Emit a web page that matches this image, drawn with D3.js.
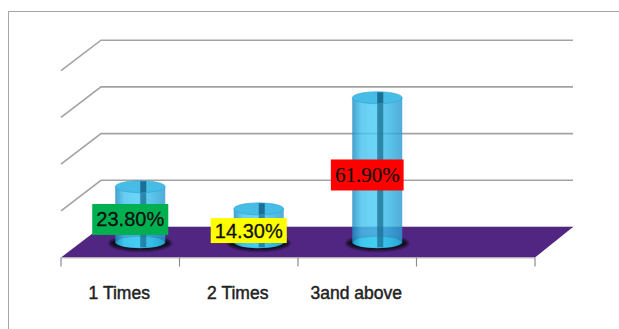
<!DOCTYPE html>
<html><head><meta charset="utf-8">
<script src="https://cdn.jsdelivr.net/npm/d3@7"></script>
<style>body{margin:0;background:#fff}svg{display:block}</style>
</head><body>
<svg id="c" width="619" height="329"></svg>
<script>
const categories = ["1 Times", "2 Times", "3and above"];
const values = [23.8, 14.3, 61.9];
const valueLabels = ["23.80%", "14.30%", "61.90%"];
const yTicks = [0, 20, 40, 60, 80];
const labelFills = ["#00b050", "#ffff00", "#ff0000"];
const labelFonts = ["Liberation Sans, Arial, sans-serif", "Liberation Sans, Arial, sans-serif", "Liberation Serif, Times New Roman, serif"];

const svg = d3.select("#c");
const W = 619, H = 329;
const frontL = 61, frontR = 535, frontY = 257.5;
const dx = 40, dy = 30.5;
const backY0 = frontY - dy;

const slots = categories.concat([""]);
const x = d3.scaleBand().domain(slots).range([frontL, frontR]).padding(0);
const y = d3.scaleLinear().domain([0, 80]).range([backY0, backY0 - 4 * 46.7]);

// outer border
svg.append("rect").attr("x", 8.5).attr("y", 11.5).attr("width", W).attr("height", H)
  .attr("fill", "#fff").attr("stroke", "#a6a6a6").attr("stroke-width", 1);

// defs
const defs = svg.append("defs");
const g1 = defs.append("linearGradient").attr("id", "cyl").attr("x1", 0).attr("x2", 1).attr("y1", 0).attr("y2", 0);
[[0, "#1d8cc0"], [0.18, "#45c3ef"], [0.45, "#4ccbf4"], [0.75, "#36b5e4"], [1, "#2a9bcf"]]
  .forEach(([o, c]) => g1.append("stop").attr("offset", o).attr("stop-color", c));
const blur = defs.append("filter").attr("id", "blur").attr("x", "-50%").attr("y", "-50%").attr("width", "200%").attr("height", "200%");
blur.append("feGaussianBlur").attr("stdDeviation", 1.2);

// gridlines (side wall + back wall)
const grid = svg.append("g");
yTicks.forEach(t => {
  const yy = y(t);
  if (t > 0) {
    grid.append("path")
      .attr("d", `M${frontL},${yy + dy}L${frontL + dx},${yy}L${frontR + dx - 2},${yy}`)
      .attr("fill", "none").attr("stroke", "#a3a3a3").attr("stroke-width", 1.6);
  } else {
    grid.append("path")
      .attr("d", `M${frontL + dx},${yy}L${frontR + dx - 2},${yy}`)
      .attr("fill", "none").attr("stroke", "#b5b5b5").attr("stroke-width", 1.6);
  }
});

// floor
svg.append("path")
  .attr("d", `M${frontL},${frontY}L${frontR},${frontY}L${frontR + dx - 2},${backY0}L${frontL + dx},${backY0}Z`)
  .attr("fill", "#512683");

// front axis line + ticks at slot boundaries
const axisG = svg.append("g");
axisG.append("line").attr("x1", frontL).attr("x2", frontR).attr("y1", frontY + 0.5).attr("y2", frontY + 0.5)
  .attr("stroke", "#bdbdbd").attr("stroke-width", 1);
const bounds = slots.map(s => x(s)).concat([x(slots[slots.length - 1]) + x.bandwidth()]);
bounds.forEach(b => {
  axisG.append("line").attr("x1", b).attr("x2", b).attr("y1", frontY).attr("y2", frontY + 9)
    .attr("stroke", "#8c8c8c").attr("stroke-width", 1.2);
});

// bars (cylinders)
const rx = 25, ry = 6;
const bars = svg.append("g");
categories.forEach((c, i) => {
  const cx = x(c) + x.bandwidth() / 2 + dx / 2;
  const base = y(0) + dy / 2;
  const top = base - (y(0) - y(values[i]));
  const g = bars.append("g");
  g.append("ellipse").attr("cx", cx).attr("cy", base + 1).attr("rx", rx + 6).attr("ry", ry + 1.5)
    .attr("fill", "#0a0a14").attr("opacity", 0.9).attr("filter", "url(#blur)");
  g.append("ellipse").attr("cx", cx).attr("cy", base).attr("rx", rx - 1).attr("ry", ry - 0.5)
    .attr("fill", "#21d2e6");
  g.append("path")
    .attr("d", `M${cx - rx},${top}L${cx - rx},${base}A${rx},${ry} 0 0 0 ${cx + rx},${base}L${cx + rx},${top}Z`)
    .attr("fill", "url(#cyl)").attr("opacity", 0.82);
  g.append("rect").attr("x", cx).attr("y", top).attr("width", 6).attr("height", base - top + ry - 1)
    .attr("fill", "#1a6f93").attr("opacity", 0.75);
  g.append("ellipse").attr("cx", cx).attr("cy", top).attr("rx", rx).attr("ry", ry)
    .attr("fill", "#46bce6").attr("stroke", "#2ea3d3").attr("stroke-width", 0.6);
  g.append("path")
    .attr("d", `M${cx},${top - ry + 0.5}L${cx + 6},${top - ry + 0.5}L${cx + 6},${top + ry - 0.5}L${cx},${top + ry}Z`)
    .attr("fill", "#1b6f94");

  // data label
  const lx = x(c) + x.bandwidth() / 2 + 10;
  const ly = base - (base - top) / 2 + 5;
  const lg = svg.append("g");
  const t = lg.append("text").attr("x", lx).attr("y", ly).attr("text-anchor", "middle")
    .attr("dominant-baseline", "central")
    .attr("font-family", labelFonts[i]).attr("font-size", i === 2 ? 21 : 20)
    .attr("fill", "#111").attr("stroke", "#111").attr("stroke-width", i === 2 ? 0.15 : 0.3).text(valueLabels[i]);
  const bb = t.node().getBBox();
  lg.insert("rect", "text").attr("x", lx - bb.width / 2 - 4).attr("y", ly - (i === 1 ? 12.5 : 15.5))
    .attr("width", bb.width + 8).attr("height", i === 1 ? 25 : 31).attr("fill", labelFills[i]);
});

// category labels
svg.append("g").selectAll("text").data(categories).join("text")
  .attr("x", d => x(d) + x.bandwidth() / 2 - 1)
  .attr("y", 299)
  .attr("text-anchor", "middle")
  .attr("font-family", "Liberation Sans, Arial, sans-serif")
  .attr("font-size", 17.5)
  .attr("fill", "#222").attr("stroke", "#222").attr("stroke-width", 0.45)
  .text(d => d);
</script>
</body></html>
